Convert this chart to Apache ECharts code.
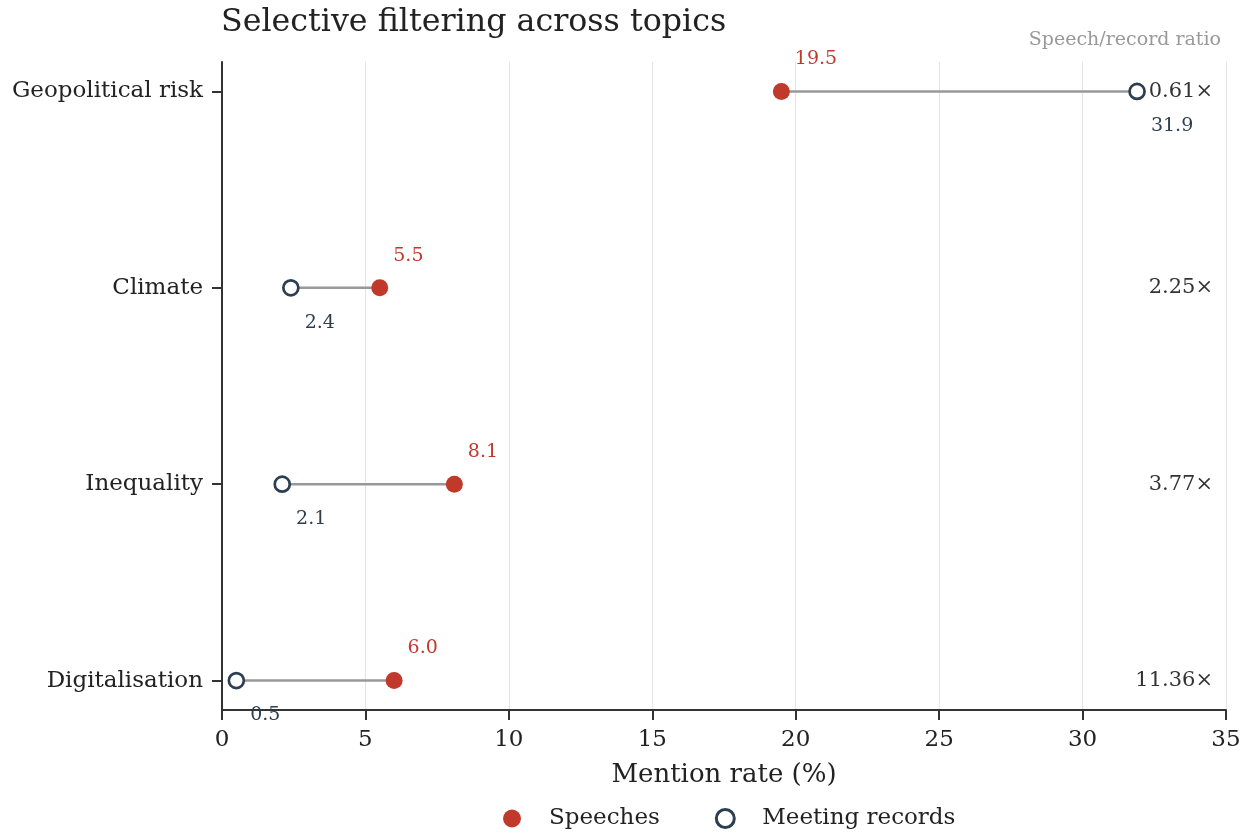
<!DOCTYPE html>
<html>
<head>
<meta charset="utf-8">
<script src="https://cdn.jsdelivr.net/npm/echarts@6/dist/echarts.min.js"></script>
<style>html,body{margin:0;padding:0;background:#fff;}#c{width:1251px;height:835px;}</style>
</head>
<body>
<div id="c"></div>
<script>
const categories = ['Geopolitical risk', 'Climate', 'Inequality', 'Digitalisation'];
const speeches = [19.5, 5.5, 8.1, 6.0];
const records = [31.9, 2.4, 2.1, 0.5];
const ratios = ['0.61×', '2.25×', '3.77×', '11.36×'];
const xTicks = [0, 5, 10, 15, 20, 25, 30, 35];

const FONT = 'DejaVu Serif';
const RED = '#c0392b';
const NAVY = '#2c3e50';
const rowIdx = categories.map((_, i) => i);

const lineSeries = categories.map((c, i) => ({
  type: 'line',
  silent: true,
  symbol: 'none',
  z: 1,
  lineStyle: { color: '#999999', width: 2.5 },
  data: [[speeches[i], i], [records[i], i]]
}));

const chart = echarts.init(document.getElementById('c'), null, { renderer: 'canvas' });
chart.setOption({
  animation: false,
  backgroundColor: '#ffffff',
  textStyle: { fontFamily: FONT },
  title: {
    text: 'Selective filtering across topics',
    left: 221, top: 7, padding: 0,
    textStyle: { fontFamily: FONT, fontSize: 31.7, fontWeight: 'normal', color: '#222222' }
  },
  graphic: [{
    type: 'text', right: 30, top: 31,
    style: { text: 'Speech/record ratio', fontFamily: FONT, fontSize: 19, fill: '#999999' }
  }],
  legend: {
    left: 503, top: 807, padding: 0,
    itemWidth: 18, itemHeight: 18, itemGap: 55,
    textStyle: { fontFamily: FONT, fontSize: 23, color: '#222222', padding: [0, 0, 0, 23] },
    data: [
      { name: 'Speeches', icon: 'circle' },
      { name: 'Meeting records', icon: 'circle', itemStyle: { borderWidth: 3 } }
    ]
  },
  grid: { left: 222, right: 25, top: 62, bottom: 125 },
  xAxis: {
    type: 'value', min: 0, max: 35, interval: 5,
    name: 'Mention rate (%)', nameLocation: 'middle', nameGap: 52,
    nameTextStyle: { fontFamily: FONT, fontSize: 26, color: '#222222' },
    axisLine: { show: true, onZero: false, lineStyle: { color: '#333333', width: 2 } },
    axisTick: { show: true, length: 10, lineStyle: { color: '#333333', width: 2 } },
    axisLabel: { fontFamily: FONT, fontSize: 23, color: '#222222', margin: 19 },
    splitLine: { show: true, lineStyle: { color: '#e5e5e5', width: 1 } }
  },
  yAxis: {
    type: 'value', min: -0.15, max: 3.15, inverse: true,
    axisLine: { show: true, onZero: false, lineStyle: { color: '#333333', width: 2 } },
    axisTick: { show: true, length: 10, customValues: rowIdx, lineStyle: { color: '#333333', width: 2 } },
    axisLabel: {
      fontFamily: FONT, fontSize: 23, color: '#222222', margin: 19,
      customValues: rowIdx,
      formatter: v => categories[Math.round(v)] || ''
    },
    splitLine: { show: false }
  },
  series: lineSeries.concat([
    {
      name: 'Speeches', type: 'scatter', z: 3,
      symbol: 'circle', symbolSize: 17,
      itemStyle: { color: RED, opacity: 1 },
      label: {
        show: true, position: 'right', distance: 5, offset: [0, -32],
        fontFamily: FONT, fontSize: 19, color: RED,
        formatter: p => p.value[0].toFixed(1)
      },
      data: speeches.map((v, i) => [v, i])
    },
    {
      name: 'Meeting records', type: 'scatter', z: 4,
      symbol: 'circle', symbolSize: 15,
      itemStyle: { color: '#ffffff', borderColor: NAVY, borderWidth: 2.7, opacity: 1 },
      label: {
        show: true, position: 'right', distance: 5, offset: [0, 35],
        fontFamily: FONT, fontSize: 19, color: NAVY,
        formatter: p => p.value[0].toFixed(1)
      },
      data: records.map((v, i) => [v, i])
    },
    {
      name: 'ratio', type: 'scatter', silent: true, z: 5,
      symbolSize: 0.01,
      itemStyle: { color: 'rgba(0,0,0,0)', opacity: 1 },
      label: {
        show: true, position: 'left', distance: 13,
        fontFamily: FONT, fontSize: 21, color: '#333333',
        formatter: p => ratios[p.dataIndex]
      },
      data: ratios.map((r, i) => [xTicks[xTicks.length - 1], i])
    }
  ])
});
</script>
</body>
</html>
